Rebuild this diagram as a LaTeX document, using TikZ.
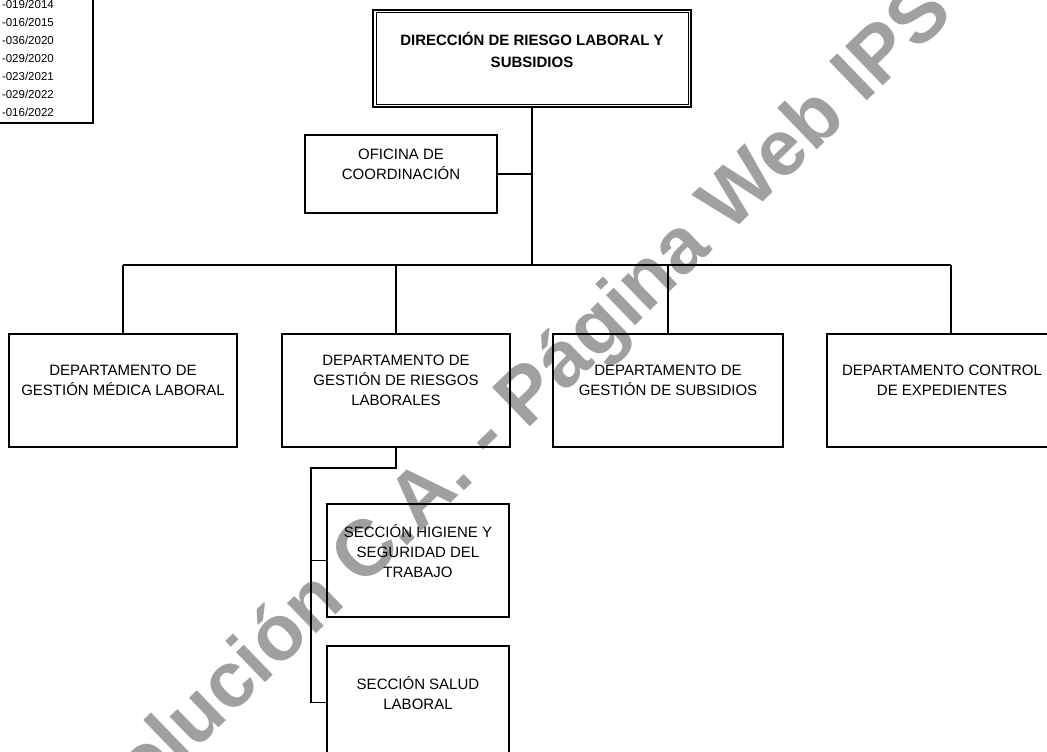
\documentclass[tikz,border=0pt]{standalone}
\usepackage{fontspec}
\setmainfont{Liberation Sans}
\usepackage{tikz}
\usetikzlibrary{calc}

\definecolor{stampgray}{RGB}{160,160,160}

\tikzset{
	unit/.style={draw, line width=1.3pt, align=center, inner sep=0pt, text depth=20pt, font=\fontsize{15}{20}\selectfont},
	link/.style={line width=1.3pt},
	stamp/.style={text=stampgray, font=\bfseries\fontsize{79}{79}\selectfont, inner sep=0pt}
}

\begin{document}
\begin{tikzpicture}[x=1pt, y=-1pt]
	\useasboundingbox (0,0) rectangle (1047,752);
	\clip (0,0) rectangle (1047,752);
	\fill[white] (0,0) rectangle (1047,752);

	\begin{scope}
		\node[stamp, rotate=44, anchor=base] at (498,458) (wm) {Resolución C.A. - Página Web IPS};
	\end{scope}

	\begin{scope}
		\draw[link] (-20,-20) rectangle (93,123);
		\node[anchor=north east, align=right, inner sep=0pt, font=\fontsize{11.5}{18}\selectfont] at (54,0) (reslist)
			{-019/2014\\-016/2015\\-036/2020\\-029/2020\\-023/2021\\-029/2022\\-016/2022};
	\end{scope}

	\begin{scope}
		\node[unit, line width=2pt, minimum width=318pt, minimum height=97pt, font=\bfseries\fontsize{15}{22}\selectfont, text depth=17pt] at (532,58.5) (dir)
			{DIRECCIÓN DE RIESGO LABORAL Y\\SUBSIDIOS};
		\draw[line width=1pt] ($(dir.north west)+(4,4)$) rectangle ($(dir.south east)+(-4,-4)$);
		\node[unit, minimum width=192pt, minimum height=78pt] at (401,174) (ofi) {OFICINA DE\\COORDINACIÓN};

		\node[unit, minimum width=228pt, minimum height=113pt] at (123,390.5) (dep1) {DEPARTAMENTO DE\\GESTIÓN MÉDICA LABORAL};
		\node[unit, minimum width=228pt, minimum height=113pt] at (396,390.5) (dep2) {DEPARTAMENTO DE\\GESTIÓN DE RIESGOS\\LABORALES};
		\node[unit, minimum width=230pt, minimum height=113pt] at (668,390.5) (dep3) {DEPARTAMENTO DE\\GESTIÓN DE SUBSIDIOS};
		\node[unit, minimum width=230pt, minimum height=113pt] at (942,390.5) (dep4) {DEPARTAMENTO CONTROL\\DE EXPEDIENTES};

		\node[unit, minimum width=182pt, minimum height=113pt] at (418,560.5) (sec1) {SECCIÓN HIGIENE Y\\SEGURIDAD DEL\\TRABAJO};
		\node[unit, minimum width=182pt, minimum height=113pt] at (418,702.5) (sec2) {SECCIÓN SALUD\\LABORAL};
	\end{scope}

	\coordinate (hub) at (532,265);
	\coordinate (d4) at (951,265);
	\coordinate (elbow) at (311,468);

	\draw[link] (dir.south) -- (hub);
	\draw[link] (ofi.east) -- (ofi.east -| hub);
	\draw[link] (dep1.north |- hub) -- (d4);
	\draw[link] (dep1.north |- hub) -- (dep1.north);
	\draw[link] (dep2.north |- hub) -- (dep2.north);
	\draw[link] (dep3.north |- hub) -- (dep3.north);
	\draw[link] (d4) -- (d4 |- dep4.north);

	\draw[link] (dep2.south) -- (dep2.south |- elbow) -- (elbow) -- (elbow |- sec2.west) -- (sec2.west);
	\draw[link] (elbow |- sec1.west) -- (sec1.west);
\end{tikzpicture}
\end{document}
